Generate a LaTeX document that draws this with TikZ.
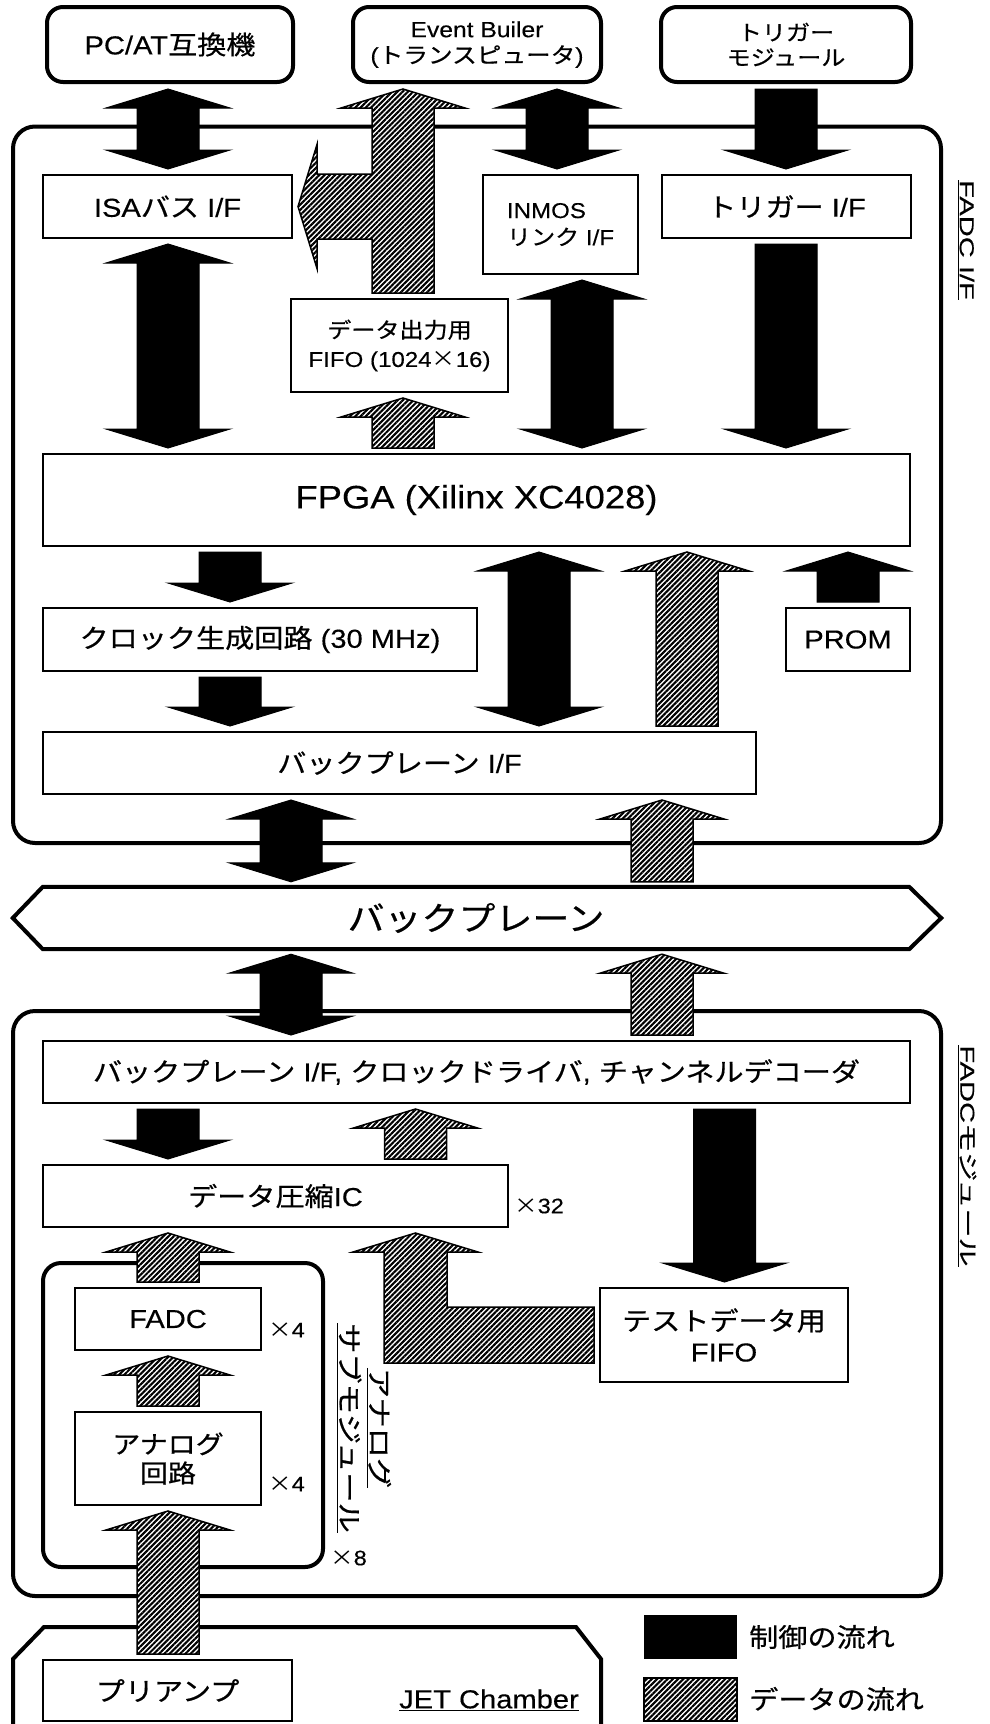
\documentclass[tikz,border=0pt]{standalone}
\usepackage{fontspec}
\setmainfont{Liberation Sans}[FakeStretch=1.12,FakeBold=0.3]
\newfontfamily\jp{Noto Sans CJK JP}[FakeStretch=1.12,FakeBold=0.6]
\newfontfamily\jpfw{Noto Sans CJK JP}[FakeStretch=1.12,RawFeature=+fwid]
\newcommand\J[1]{{\jp #1}}
\newcommand\X{{\jpfw ×}}
\usetikzlibrary{calc,patterns.meta}

\tikzset{
  box/.style={draw,line width=2pt,inner sep=0pt,align=center,font=\fontsize{26}{30}\selectfont},
  rbox/.style={draw,line width=4pt,rounded corners=16pt,inner sep=0pt,align=center},
  bigbox/.style={draw,line width=4pt,rounded corners=22pt,inner sep=0pt},
  ctrl/.style={fill=black,draw=black,line width=1pt},
  data/.style={draw=black,line width=1.5pt,preaction={fill=white},pattern={Lines[angle=45,distance=3.7pt,line width=2.1pt]}},
  lbl/.style={inner sep=0pt,font=\fontsize{26}{30}\selectfont},
  small/.style={inner sep=0pt,anchor=west,font=\fontsize{21}{24}\selectfont},
}

\newcommand\fatboth[4]{\path[#1] let \p1=(#3),\p2=(#4) in
 (#2pt,\y1-5pt) -- (#2pt+62pt,\y1-24pt) -- (#2pt+31pt,\y1-24pt) -- (#2pt+31pt,\y2+24pt) -- (#2pt+62pt,\y2+24pt) -- (#2pt,\y2+5pt) -- (#2pt-62pt,\y2+24pt) -- (#2pt-31pt,\y2+24pt) -- (#2pt-31pt,\y1-24pt) -- (#2pt-62pt,\y1-24pt) -- cycle;}
\newcommand\fatdown[4]{\path[#1] let \p1=(#3),\p2=(#4) in
 (#2pt-31pt,\y1-5pt) -- (#2pt+31pt,\y1-5pt) -- (#2pt+31pt,\y2+24pt) -- (#2pt+62pt,\y2+24pt) -- (#2pt,\y2+5pt) -- (#2pt-62pt,\y2+24pt) -- (#2pt-31pt,\y2+24pt) -- cycle;}
\newcommand\fatup[4]{\path[#1] let \p1=(#3),\p2=(#4) in
 (#2pt-31pt,\y1+5pt) -- (#2pt+31pt,\y1+5pt) -- (#2pt+31pt,\y2-24pt) -- (#2pt+62pt,\y2-24pt) -- (#2pt,\y2-5pt) -- (#2pt-62pt,\y2-24pt) -- (#2pt-31pt,\y2-24pt) -- cycle;}

\begin{document}
\begin{tikzpicture}[x=1pt,y=-1pt]
\useasboundingbox (0,0) rectangle (989,1724);

% containers
\node[bigbox,minimum width=928,minimum height=716.5] (fadcif) at (477,484.75) {};
\node[bigbox,minimum width=928,minimum height=585] (fadcm) at (477,1303.5) {};
\node[bigbox,rounded corners=18pt,minimum width=280,minimum height=304] (sub) at (183,1415) {};

% top boxes
\node[rbox,minimum width=246,minimum height=75,font=\fontsize{26}{30}\selectfont] (pcat) at (170,44.5) {PC/AT\J{互換機}};
\node[rbox,minimum width=248,minimum height=75,font=\fontsize{22}{26}\selectfont] (eb) at (477,44.5) {Event Builer\\(\J{トランスピュータ})};
\node[rbox,minimum width=250,minimum height=75,font=\fontsize{21.5}{25}\selectfont] (tm) at (786,44.5) {\J{トリガー}\\\J{モジュール}};

% FADC I/F board
\node[box,minimum width=249,minimum height=63] (isa) at (167.5,206.5) {ISA\J{バス} I/F};
\node[box,minimum width=155,minimum height=99,align=left,font=\fontsize{21.5}{27}\selectfont] (inmos) at (560.5,224.5) {INMOS\\\J{リンク} I/F};
\node[box,minimum width=249,minimum height=63] (tif) at (786.5,206.5) {\J{トリガー} I/F};
\node[box,minimum width=217,minimum height=93,font=\fontsize{21.5}{29}\selectfont] (fifo) at (399.5,345.5) {\J{データ出力用}\\FIFO (1024\X16)};
\node[box,minimum width=867,minimum height=92,font=\fontsize{32.5}{36}\selectfont] (fpga) at (476.5,500) {FPGA (Xilinx XC4028)};
\node[box,minimum width=434,minimum height=63] (clock) at (260,639.5) {\J{クロック生成回路} (30 MHz)};
\node[box,minimum width=124,minimum height=63] (prom) at (848,639.5) {PROM};
\node[box,minimum width=713,minimum height=62] (bpif) at (399.5,763) {\J{バックプレーン} I/F};

% backplane
\node[inner sep=0pt,minimum width=866,minimum height=62,font=\fontsize{33}{36}\selectfont] (bp) at (476,918) {\J{バックプレーン}};
\draw[line width=4pt] (bp.north west) -- (bp.north east) -- ([xshift=32pt]bp.east) -- (bp.south east) -- (bp.south west) -- ([xshift=-30pt]bp.west) -- cycle;

% FADC module
\node[box,minimum width=867,minimum height=62] (drv) at (476.5,1072) {\J{バックプレーン} I/F, \J{クロックドライバ}, \J{チャンネルデコーダ}};
\node[box,minimum width=465,minimum height=62] (comp) at (275.5,1196) {\J{データ圧縮}IC};
\node[small] (x32) at (514,1206) {\X32};
\node[box,minimum width=186,minimum height=62] (fadc) at (168,1319) {FADC};
\node[small] (x4a) at (268,1330) {\X4};
\node[box,minimum width=186,minimum height=93,font=\fontsize{25}{29}\selectfont] (ana) at (168,1458.5) {\J{アナログ}\\\J{回路}};
\node[small] (x4b) at (268,1484) {\X4};
\node[small] (x8) at (330,1558) {\X8};
\node[box,minimum width=248,minimum height=94,font=\fontsize{26}{31}\selectfont] (tfifo) at (724,1335) {\J{テストデータ用}\\FIFO};

% JET chamber
\draw[line width=4pt] (13,1740) -- (13,1659) -- (44,1627) -- (576,1627) -- (601,1659) -- (601,1740);
\node[box,minimum width=249,minimum height=61] (pre) at (167.5,1690.5) {\J{プリアンプ}};
\node[lbl] (jet) at (489,1700) {\underline{JET Chamber}};

% side labels
\node[lbl,rotate=-90,xscale=1.3,font=\fontsize{20}{24}\selectfont] (lfif) at (966,240) {\underline{FADC I/F}};
\node[lbl,rotate=-90,xscale=1.3,font=\fontsize{20}{24}\selectfont] (lfm) at (967,1156) {\underline{FADC\J{モジュール}}};
\node[lbl,rotate=-90,xscale=1.08,align=center,font=\fontsize{25}{30}\selectfont] (lsub) at (364,1428) {\underline{\J{アナログ}}\\\underline{\J{サブモジュール}}};

% legend
\node[fill=black,minimum width=93,minimum height=44,inner sep=0pt] (lc) at (690.5,1637) {};
\node[data,minimum width=93,minimum height=43,inner sep=0pt] (ld) at (690.5,1699.5) {};
\node[lbl,anchor=west] (lct) at (749,1637) {\J{制御の流れ}};
\node[lbl,anchor=west] (ldt) at (749,1699) {\J{データの流れ}};

% block arrows
\fatboth{ctrl}{168}{pcat.south}{isa.north}
\fatboth{ctrl}{557}{eb.south}{inmos.north}
\fatdown{ctrl}{786}{tm.south}{tif.north}
\fatboth{ctrl}{168}{isa.south}{fpga.north}
\fatup{data}{403}{fpga.north}{fifo.south}
\fatboth{ctrl}{582}{inmos.south}{fpga.north}
\fatdown{ctrl}{786}{tif.south}{fpga.north}
\fatdown{ctrl}{230}{fpga.south}{clock.north}
\fatboth{ctrl}{539}{fpga.south}{bpif.north}
\fatup{data}{687}{bpif.north}{fpga.south}
\fatup{ctrl}{848}{prom.north}{fpga.south}
\fatdown{ctrl}{230}{clock.south}{bpif.north}
\fatboth{ctrl}{291}{bpif.south}{bp.north}
\fatup{data}{662}{bp.north}{bpif.south}
\fatboth{ctrl}{291}{bp.south}{drv.north}
\fatup{data}{662}{drv.north}{bp.south}
\fatdown{ctrl}{168}{drv.south}{comp.north}
\fatup{data}{415.5}{comp.north}{drv.south}
\fatdown{ctrl}{724.5}{drv.south}{tfifo.north}
\fatup{data}{168}{fadc.north}{comp.south}
\fatup{data}{168}{ana.north}{fadc.south}
\fatup{data}{168}{pre.north}{ana.south}

% FIFO -> Event Builder, with branch to ISA
\path[data] let \p1=(fifo.north), \p2=(eb.south), \p3=(isa.east), \p4=(isa.north), \p5=(isa.south) in
 (372pt,\y1+5pt) -- (372pt,\y5) -- (\x3+24pt,\y5) -- (\x3+24pt,{(\y4+\y5)/2-62pt}) -- (\x3+5pt,{(\y4+\y5)/2}) -- (\x3+24pt,{(\y4+\y5)/2+62pt}) -- (\x3+24pt,\y4) -- (372pt,\y4) -- (372pt,\y2-24pt) -- (341pt,\y2-24pt) -- (403pt,\y2-5pt) -- (465pt,\y2-24pt) -- (434pt,\y2-24pt) -- (434pt,\y1+5pt) -- cycle;

% test FIFO -> compression IC (L-shaped)
\path[data] let \p1=(tfifo.west), \p2=(comp.south) in
 (\x1-5pt,\y1+28pt) -- (447pt,\y1+28pt) -- (447pt,\y2-24pt) -- (478pt,\y2-24pt) -- (415.5pt,\y2-5pt) -- (353pt,\y2-24pt) -- (384pt,\y2-24pt) -- (384pt,\y1-28pt) -- (\x1-5pt,\y1-28pt) -- cycle;
\end{tikzpicture}
\end{document}
